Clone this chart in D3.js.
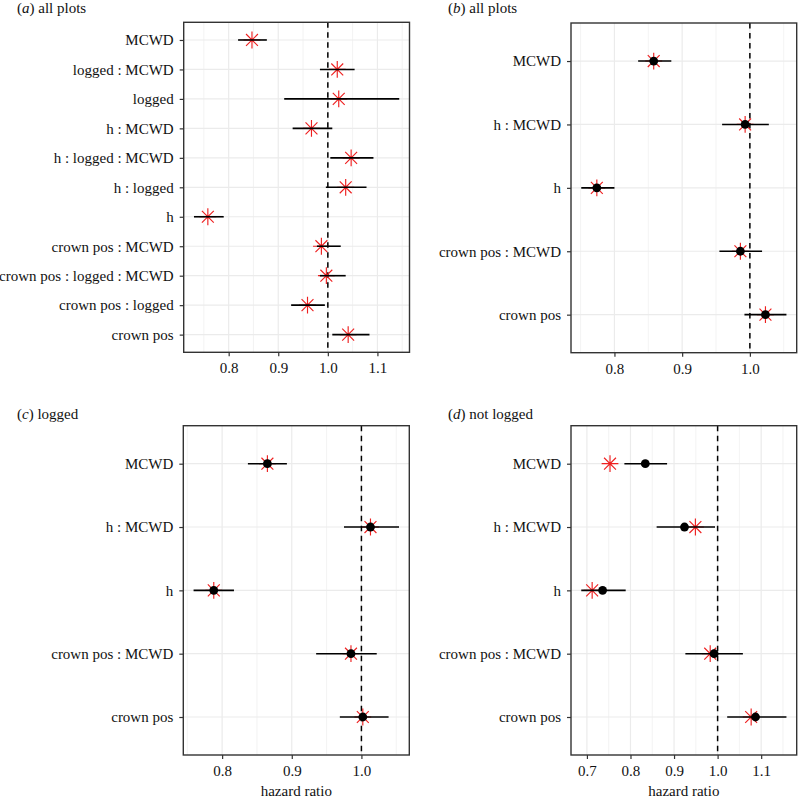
<!DOCTYPE html>
<html>
<head>
<meta charset="utf-8">
<script src="https://cdn.jsdelivr.net/npm/d3@7"></script>
<style>
  html, body { margin: 0; padding: 0; background: #fff; }
  svg { display: block; }
  text { font-family: "Liberation Serif", "Times New Roman", serif; }
</style>
</head>
<body>
<svg id="chart" width="798" height="800"></svg>
<script>
// ---------- data ----------
const catsA = ["MCWD", "logged : MCWD", "logged", "h : MCWD", "h : logged : MCWD",
  "h : logged", "h", "crown pos : MCWD", "crown pos : logged : MCWD", "crown pos : logged", "crown pos"];
const aStar = [0.847, 1.019, 1.022, 0.967, 1.047, 1.036, 0.758, 0.987, 0.997, 0.959, 1.041];
const aLow  = [0.819, 0.984, 0.912, 0.929, 1.005, 0.996, 0.730, 0.978, 0.984, 0.926, 1.009];
const aHigh = [0.877, 1.054, 1.144, 1.009, 1.092, 1.078, 0.790, 1.026, 1.036, 0.994, 1.084];

const catsSub = ["MCWD", "h : MCWD", "h", "crown pos : MCWD", "crown pos"];

const bDot  = [0.858, 0.993, 0.774, 0.986, 1.023];
const bStar = [0.858, 0.993, 0.774, 0.986, 1.023];
const bLow  = [0.835, 0.959, 0.751, 0.955, 0.992];
const bHigh = [0.884, 1.028, 0.800, 1.018, 1.054];

const cDot  = [0.865, 1.013, 0.788, 0.985, 1.002];
const cStar = [0.865, 1.013, 0.788, 0.985, 1.002];
const cLow  = [0.837, 0.975, 0.759, 0.935, 0.969];
const cHigh = [0.893, 1.054, 0.817, 1.022, 1.039];

const dDot  = [0.834, 0.924, 0.736, 0.992, 1.087];
const dStar = [0.753, 0.949, 0.712, 0.983, 1.077];
const dLow  = [0.786, 0.860, 0.687, 0.926, 1.022];
const dHigh = [0.884, 0.994, 0.789, 1.058, 1.158];

const ticksA = [0.8, 0.9, 1.0, 1.1];
const ticksB = [0.8, 0.9, 1.0];
const ticksC = [0.8, 0.9, 1.0];
const ticksD = [0.7, 0.8, 0.9, 1.0, 1.1];

const titles = [["a", "all plots"], ["b", "all plots"], ["c", "logged"], ["d", "not logged"]];
const xTitle = "hazard ratio";
const refLine = 1.0;

// ---------- layout ----------
const panels = [
  { cats: catsA,   star: aStar, dot: null, low: aLow, high: aHigh, ticks: ticksA, title: titles[0],
    box: { l: 183.7, r: 409.5, t: 22.3, b: 352.3 }, titlePos: [17, 13], xlab: false },
  { cats: catsSub, star: bStar, dot: bDot, low: bLow, high: bHigh, ticks: ticksB, title: titles[1],
    box: { l: 571, r: 796.7, t: 23, b: 352.7 }, titlePos: [448, 13], xlab: false },
  { cats: catsSub, star: cStar, dot: cDot, low: cLow, high: cHigh, ticks: ticksC, title: titles[2],
    box: { l: 183.3, r: 409.3, t: 425.7, b: 755 }, titlePos: [17, 419], xlab: true },
  { cats: catsSub, star: dStar, dot: dDot, low: dLow, high: dHigh, ticks: ticksD, title: titles[3],
    box: { l: 571, r: 796.7, t: 425.7, b: 755 }, titlePos: [448, 419], xlab: true }
];

const svg = d3.select("#chart");
const FS = 15;
const RED = "#ee2020";

function starPath(cx, cy) {
  const a = 8.4, d = 5.95;
  return `M${cx},${cy - a}L${cx},${cy + a}M${cx - a},${cy}L${cx + a},${cy}` +
         `M${cx - d},${cy - d}L${cx + d},${cy + d}M${cx - d},${cy + d}L${cx + d},${cy - d}`;
}

panels.forEach(p => {
  const B = p.box;
  const allVals = p.low.concat(p.high, p.star, p.dot || []);
  const [mn, mx] = d3.extent(allVals);
  const pad = (mx - mn) * 0.05;
  const x = d3.scaleLinear().domain([mn - pad, mx + pad]).range([B.l, B.r]);
  const y = d3.scalePoint().domain(p.cats).range([B.t, B.b]).padding(0.6);

  const g = svg.append("g");

  // minor gridlines
  const step = p.ticks[1] - p.ticks[0];
  const minor = [p.ticks[0] - step / 2].concat(p.ticks.map(t => t + step / 2))
    .filter(v => v >= x.domain()[0] && v <= x.domain()[1]);
  g.selectAll(".minor").data(minor).join("line")
    .attr("x1", d => x(d)).attr("x2", d => x(d))
    .attr("y1", B.t).attr("y2", B.b)
    .attr("stroke", "#ebebeb").attr("stroke-width", 0.6);
  // major gridlines
  g.selectAll(".majorx").data(p.ticks).join("line")
    .attr("x1", d => x(d)).attr("x2", d => x(d))
    .attr("y1", B.t).attr("y2", B.b)
    .attr("stroke", "#ebebeb").attr("stroke-width", 1.2);
  g.selectAll(".majory").data(p.cats).join("line")
    .attr("x1", B.l).attr("x2", B.r)
    .attr("y1", d => y(d)).attr("y2", d => y(d))
    .attr("stroke", "#ebebeb").attr("stroke-width", 1.2);

  // reference line
  g.append("line")
    .attr("x1", x(refLine)).attr("x2", x(refLine))
    .attr("y1", B.t).attr("y2", B.b)
    .attr("stroke", "#000").attr("stroke-width", 1.5)
    .attr("stroke-dasharray", "5.5,4.5");

  // stars
  g.selectAll(".star").data(p.cats).join("path")
    .attr("d", (c, i) => starPath(x(p.star[i]), y(c)))
    .attr("stroke", RED).attr("stroke-width", 1.15).attr("fill", "none");

  // error bars
  g.selectAll(".err").data(p.cats).join("line")
    .attr("x1", (c, i) => x(p.low[i])).attr("x2", (c, i) => x(p.high[i]))
    .attr("y1", c => y(c)).attr("y2", c => y(c))
    .attr("stroke", "#000").attr("stroke-width", 1.6);

  // dots
  if (p.dot) {
    g.selectAll(".dot").data(p.cats).join("circle")
      .attr("cx", (c, i) => x(p.dot[i])).attr("cy", c => y(c))
      .attr("r", 4.4).attr("fill", "#000");
  }

  // panel border
  g.append("rect")
    .attr("x", B.l).attr("y", B.t).attr("width", B.r - B.l).attr("height", B.b - B.t)
    .attr("fill", "none").attr("stroke", "#333").attr("stroke-width", 1.4);

  // axes
  const xa = g.append("g").attr("transform", `translate(0,${B.b})`)
    .call(d3.axisBottom(x).tickValues(p.ticks).tickFormat(d3.format(".1f")).tickSize(4).tickPadding(6.5));
  const ya = g.append("g").attr("transform", `translate(${B.l},0)`)
    .call(d3.axisLeft(y).tickSize(4).tickPadding(6));
  [xa, ya].forEach(a => {
    a.select(".domain").remove();
    a.selectAll(".tick line").attr("stroke", "#333").attr("stroke-width", 1.2);
    a.selectAll(".tick text").attr("fill", "#111").attr("font-size", FS)
      .attr("font-family", "'Liberation Serif', 'Times New Roman', serif");
  });

  // title
  const t = svg.append("text").attr("x", p.titlePos[0]).attr("y", p.titlePos[1])
    .attr("font-size", FS).attr("fill", "#111");
  t.append("tspan").text("(");
  t.append("tspan").attr("font-style", "italic").text(p.title[0]);
  t.append("tspan").text(") " + p.title[1]);

  if (p.xlab) {
    svg.append("text").attr("x", (B.l + B.r) / 2).attr("y", 796)
      .attr("text-anchor", "middle").attr("font-size", FS).attr("fill", "#111")
      .text(xTitle);
  }
});
</script>
</body>
</html>
